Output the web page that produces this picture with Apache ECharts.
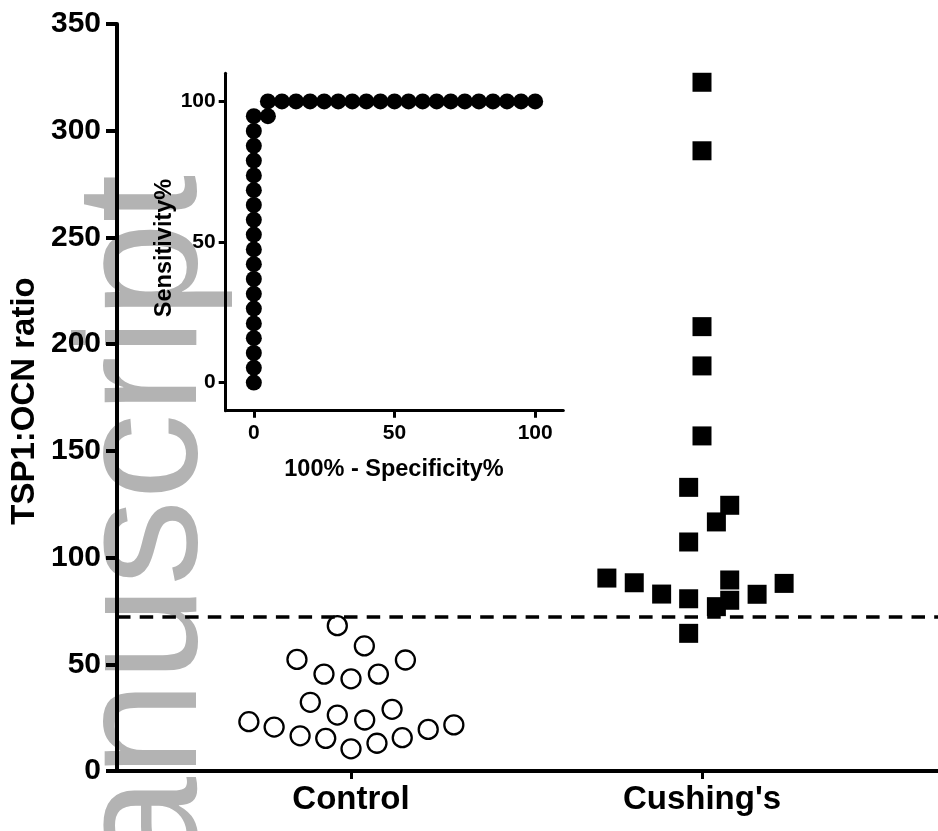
<!DOCTYPE html>
<html>
<head>
<meta charset="utf-8">
<script src="https://cdn.jsdelivr.net/npm/echarts@6/dist/echarts.min.js"></script>
<style>html,body{margin:0;padding:0;background:#fff;}#main{width:938px;height:831px;}</style>
</head>
<body>
<div id="main"></div>
<script>
// ---- Data ----
const categories = ['Control', "Cushing's"];
const controlValues = [68.1, 58.6, 52.3, 52.0, 45.4, 43.2, 45.4, 32.2, 26.2, 23.9, 28.9, 23.1, 20.6, 16.5, 15.3, 10.4, 13.0, 15.6, 19.5, 21.6];
const controlJitter = [-0.039, 0.038, -0.154, 0.155, -0.077, 0, 0.078, -0.116, -0.039, 0.039, 0.117, -0.291, -0.219, -0.145, -0.072, 0, 0.074, 0.146, 0.220, 0.293];
const cushingValues = [322.7, 290.6, 208.2, 189.8, 157.0, 132.9, 124.5, 116.7, 107.3, 90.4, 88.2, 82.9, 80.7, 77.0, 89.5, 80.0, 82.8, 87.9, 64.5];
const cushingJitter = [0, 0, 0, 0, 0, -0.038, 0.079, 0.041, -0.038, -0.271, -0.193, -0.115, -0.038, 0.041, 0.079, 0.079, 0.157, 0.234, -0.038];
const cutoff = 72.4;
const yTicks = [0, 50, 100, 150, 200, 250, 300, 350];
const rocX = [0,0,0,0,0,0,0,0,0,0,0,0,0,0,0,0,0,0,0, 5, 5,10,15,20,25,30,35,40,45,50,55,60,65,70,75,80,85,90,95,100];
const rocY = [0,5.26,10.53,15.79,21.05,26.32,31.58,36.84,42.11,47.37,52.63,57.89,63.16,68.42,73.68,78.95,84.21,89.47,94.74, 94.74, 100,100,100,100,100,100,100,100,100,100,100,100,100,100,100,100,100,100,100,100];
const rocTicks = [0, 50, 100];

const FONT = '"Liberation Sans", Arial, Helvetica, sans-serif';

const controlData = controlValues.map((v, i) => [1 + controlJitter[i], v]);
const cushingData = cushingValues.map((v, i) => [2 + cushingJitter[i], v]);
const rocData = rocX.map((x, i) => [x, rocY[i]]);

const chart = echarts.init(document.getElementById('main'), null, {renderer: 'canvas'});
chart.setOption({
  animation: false,
  backgroundColor: '#fff',
  grid: [
    {left: 117, right: 0, top: 24, bottom: 60},
    {left: 225.7, top: 73.3, width: 337.6, height: 337.4}
  ],
  xAxis: [
    {
      gridIndex: 0, type: 'value', min: 0.3333, max: 2.6724,
      splitLine: {show: false},
      axisLine: {show: true, lineStyle: {color: '#000', width: 4}},
      axisTick: {show: true, customValues: [1, 2], length: 8, lineStyle: {color: '#000', width: 3}},
      axisLabel: {customValues: [1, 2], formatter: v => categories[Math.round(v) - 1], color: '#000',
        fontFamily: FONT, fontWeight: 'bold', fontSize: 33, margin: 12}
    },
    {
      gridIndex: 1, type: 'value', min: -10, max: 110,
      splitLine: {show: false},
      axisLine: {show: true, onZero: false, lineStyle: {color: '#000', width: 3}},
      axisTick: {show: true, customValues: rocTicks, length: 7, lineStyle: {color: '#000', width: 3}},
      axisLabel: {customValues: rocTicks, color: '#000', fontFamily: FONT, fontWeight: 'bold', fontSize: 21, margin: 12}
    }
  ],
  yAxis: [
    {
      gridIndex: 0, type: 'value', min: 0, max: 350, interval: 50,
      splitLine: {show: false},
      axisLine: {show: true, lineStyle: {color: '#000', width: 4}},
      axisTick: {show: true, length: 11, lineStyle: {color: '#000', width: 4}},
      axisLabel: {customValues: yTicks, color: '#000', fontFamily: FONT, fontWeight: 'bold', fontSize: 30, margin: 16}
    },
    {
      gridIndex: 1, type: 'value', min: -10, max: 110,
      splitLine: {show: false},
      axisLine: {show: true, onZero: false, lineStyle: {color: '#000', width: 3}},
      axisTick: {show: true, customValues: rocTicks, length: 7, lineStyle: {color: '#000', width: 3}},
      axisLabel: {customValues: rocTicks, color: '#000', fontFamily: FONT, fontWeight: 'bold', fontSize: 21, margin: 10}
    }
  ],
  graphic: [
    {type: 'text', x: 149, y: 1016, rotation: Math.PI / 2, z: -100, silent: true,
      style: {text: 'Manuscript', fontSize: 172, fontFamily: FONT, fontWeight: 'normal', fill: '#b3b3b3', align: 'left', verticalAlign: 'middle'}},
    {type: 'text', x: 25, y: 401, rotation: Math.PI / 2, z: 10,
      style: {text: 'TSP1:OCN ratio', fontSize: 33, fontFamily: FONT, fontWeight: 'bold', fill: '#000', align: 'center', verticalAlign: 'middle'}},
    {type: 'text', x: 165, y: 248, rotation: Math.PI / 2, z: 10,
      style: {text: 'Sensitivity%', fontSize: 23.5, fontFamily: FONT, fontWeight: 'bold', fill: '#000', align: 'center', verticalAlign: 'middle'}},
    {type: 'text', x: 394, y: 470, z: 10,
      style: {text: '100% - Specificity%', fontSize: 23.5, fontFamily: FONT, fontWeight: 'bold', fill: '#000', align: 'center', verticalAlign: 'middle'}}
  ],
  series: [
    {
      type: 'scatter', xAxisIndex: 0, yAxisIndex: 0, data: controlData,
      symbol: 'circle', symbolSize: 19,
      itemStyle: {color: '#fff', borderColor: '#000', borderWidth: 2.3, opacity: 1},
      markLine: {
        silent: true, symbol: 'none', label: {show: false},
        lineStyle: {color: '#000', width: 3.5, type: [13.5, 9.2]},
        data: [{yAxis: cutoff}]
      }
    },
    {
      type: 'scatter', xAxisIndex: 0, yAxisIndex: 0, data: cushingData,
      symbol: 'rect', symbolSize: 19,
      itemStyle: {color: '#000', opacity: 1}
    },
    {
      type: 'scatter', xAxisIndex: 1, yAxisIndex: 1, data: rocData,
      symbol: 'circle', symbolSize: 16,
      itemStyle: {color: '#000', opacity: 1}
    }
  ]
});
</script>
</body>
</html>
